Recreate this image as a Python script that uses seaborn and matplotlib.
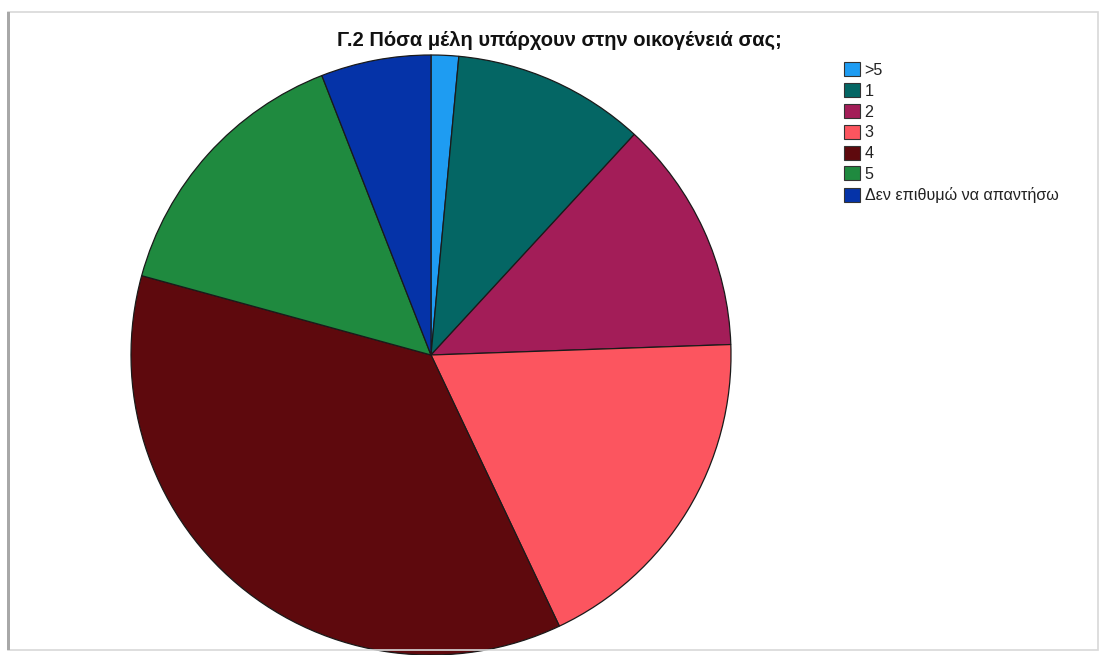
import matplotlib
matplotlib.use("Agg")
import matplotlib.pyplot as plt
from matplotlib.patches import Rectangle, Patch
import seaborn as sns

# Household size responses (counts)
categories = [">5", "1", "2", "3", "4", "5", "Δεν επιθυμώ να απαντήσω"]
counts = [2, 14, 17, 25, 49, 20, 8]
colors = ["#1e9cf2", "#046664", "#a31d58", "#fc555f", "#5e090d", "#1f8a3f", "#0533a8"]
title = "Γ.2 Πόσα μέλη υπάρχουν στην οικογένειά σας;"

sns.set_theme(style="white")
plt.rcParams["font.family"] = ["Liberation Sans", "DejaVu Sans"]

W, H = 1102, 655
fig = plt.figure(figsize=(W / 100, H / 100), dpi=100)
fig.patch.set_facecolor("white")

# window-like frame around the chart
fig.add_artist(Rectangle((8 / W, 5 / H), 1090 / W, 638 / H, transform=fig.transFigure,
                         fill=False, edgecolor="#d8d8d8", linewidth=1.2))
fig.add_artist(Rectangle((7 / W, 5 / H), 3 / W, 638 / H, transform=fig.transFigure,
                         facecolor="#a8a8a8", edgecolor="none"))

cx, cy, r = 431, 355, 300
ax = fig.add_axes([(cx - r) / W, (H - cy - r) / H, 2 * r / W, 2 * r / H])
palette = sns.color_palette(colors)
ax.pie(counts, colors=palette, startangle=90, counterclock=False,
       wedgeprops=dict(edgecolor="#1a1a1a", linewidth=0.9))
ax.set_xlim(-1.0, 1.0)
ax.set_ylim(-1.0, 1.0)
ax.set_aspect("equal")
ax.axis("off")

fig.text(559 / W, 1 - 40 / H, title, ha="center", va="center",
         fontsize=14.5, fontweight="bold", color="#111111",
         family=["Liberation Sans Narrow", "Liberation Sans", "DejaVu Sans"])

handles = [Patch(facecolor=c, edgecolor="#333333", linewidth=0.8) for c in palette]
fig.legend(handles, categories, loc="upper left",
           bbox_to_anchor=(838 / W, 1 - 56 / H), frameon=False,
           fontsize=11.6, handlelength=0.95, handleheight=0.95,
           handletextpad=0.3, labelspacing=0.33, borderaxespad=0,
           labelcolor="#222222")

fig.savefig("out.png", dpi=100, facecolor="white")
